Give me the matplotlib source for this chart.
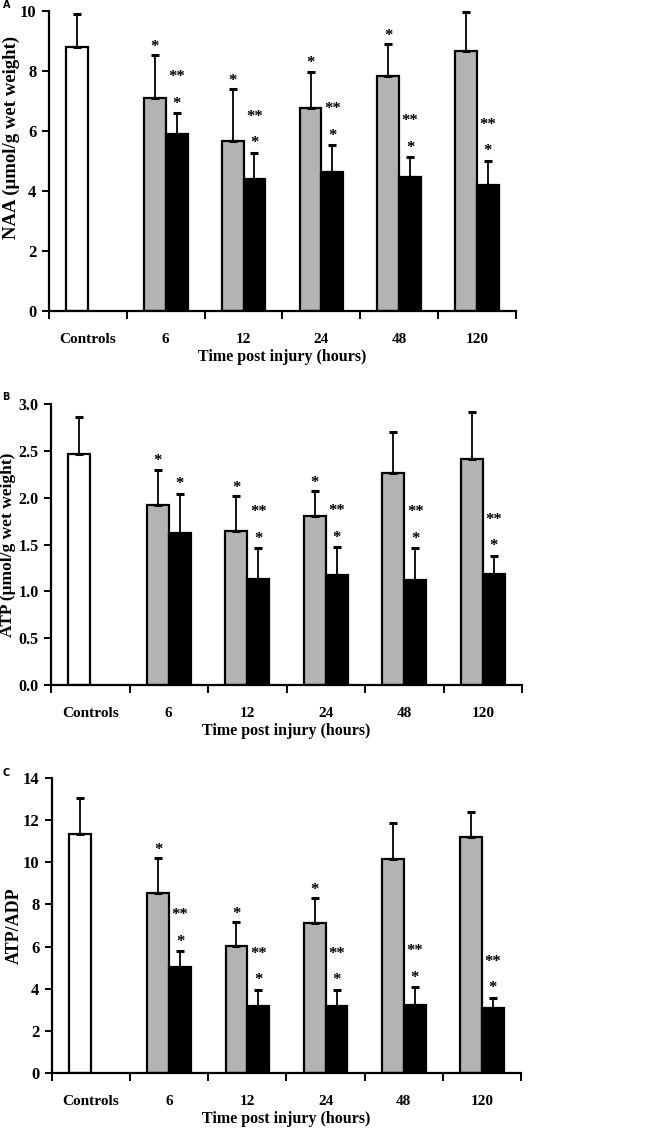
import numpy as np
import matplotlib
matplotlib.use('Agg')
import matplotlib.pyplot as plt

plt.rcParams['font.family'] = ['Liberation Serif', 'DejaVu Serif']
plt.rcParams['font.weight'] = 'bold'
plt.rcParams['axes.labelweight'] = 'bold'

categories = ['Controls', '6', '12', '24', '48', '120']

# panel A: NAA
naa_gray = [8.79, 7.09, 5.68, 6.76, 7.83, 8.66]
naa_gray_err = [1.11, 1.44, 1.71, 1.22, 1.08, 1.32]
naa_black = [np.nan, 5.89, 4.40, 4.64, 4.47, 4.20]
naa_black_err = [np.nan, 0.70, 0.87, 0.88, 0.66, 0.80]
naa_gray_star = [0, 1, 1, 1, 1, 0]
naa_black_dstar = [0, 1, 1, 1, 1, 1]

# panel B: ATP
atp_gray = [2.47, 1.92, 1.64, 1.80, 2.26, 2.41]
atp_gray_err = [0.39, 0.38, 0.38, 0.27, 0.44, 0.50]
atp_black = [np.nan, 1.62, 1.13, 1.17, 1.12, 1.19]
atp_black_err = [np.nan, 0.42, 0.33, 0.30, 0.34, 0.19]
atp_gray_star = [0, 1, 1, 1, 0, 0]
atp_black_dstar = [0, 0, 1, 1, 1, 1]

# panel C: ATP/ADP
ratio_gray = [11.32, 8.56, 6.04, 7.13, 10.16, 11.19]
ratio_gray_err = [1.71, 1.65, 1.11, 1.19, 1.70, 1.21]
ratio_black = [np.nan, 5.01, 3.19, 3.19, 3.25, 3.09]
ratio_black_err = [np.nan, 0.76, 0.76, 0.76, 0.82, 0.49]
ratio_gray_star = [0, 1, 1, 1, 0, 0]
ratio_black_dstar = [0, 1, 1, 1, 1, 1]

fig = plt.figure(figsize=(6.48, 11.31), dpi=100)

w = 0.28


def draw_panel(ax, gray, gray_err, black, black_err, gray_star, black_dstar,
               ylim, yticks, yfmt, ylabel, ylab_size, ylab_pos, ytick_size=12):
    x = np.arange(len(categories))
    colors = ['white'] + ['#b3b3b3'] * (len(categories) - 1)
    ax.bar(x - w / 2, gray, w, color=colors, edgecolor='black', linewidth=1.6, zorder=2)
    ax.bar(x + w / 2, black, w, color='black', edgecolor='black', linewidth=1.6, zorder=2)
    g = np.array(gray)
    ge = np.array(gray_err)
    b = np.array(black)
    be = np.array(black_err)
    ax.errorbar(x - w / 2, g, yerr=[np.zeros_like(ge), ge], fmt='none', ecolor='black',
                elinewidth=1.3, capsize=3, capthick=2.2, zorder=3)
    ax.errorbar(x + w / 2, b, yerr=[np.zeros_like(be), be], fmt='none', ecolor='black',
                elinewidth=1.3, capsize=3, capthick=2.2, zorder=3)
    # significance marks
    for i in range(len(categories)):
        if gray_star[i]:
            ax.annotate('*', (x[i] - w / 2, g[i] + ge[i]), xytext=(0, 3),
                        textcoords='offset points', ha='center', va='baseline', fontsize=12)
        if not np.isnan(b[i]):
            ax.annotate('*', (x[i] + w / 2, b[i] + be[i]), xytext=(0, 4),
                        textcoords='offset points', ha='center', va='baseline', fontsize=12)
            if black_dstar[i]:
                ax.annotate('**', (x[i] + w / 2, b[i] + be[i]), xytext=(0, 23),
                            textcoords='offset points', ha='center', va='baseline', fontsize=12)

    ax.set_xlim(-0.5, len(categories) - 0.5)
    ax.set_ylim(*ylim)
    ax.set_yticks(yticks)
    ax.set_yticklabels([yfmt.format(t) for t in yticks], fontsize=ytick_size)
    ax.set_xticks(np.arange(len(categories) + 1) - 0.5)
    ax.set_xticklabels([])
    ax.set_xticks(x, minor=True)
    ax.set_xticklabels(categories, minor=True, fontsize=11)
    ax.tick_params(axis='x', which='major', direction='out', length=6, width=1.4)
    ax.tick_params(axis='x', which='minor', length=0, pad=16)
    ax.tick_params(axis='y', direction='out', length=5, width=1.4, pad=4)
    for s in ['top', 'right']:
        ax.spines[s].set_visible(False)
    for s in ['left', 'bottom']:
        ax.spines[s].set_linewidth(1.6)
    ax.set_xlabel('Time post injury (hours)', fontsize=11.5, labelpad=2)
    ax.set_ylabel(ylabel, fontsize=ylab_size)
    ax.yaxis.set_label_coords(*ylab_pos)


axA = fig.add_axes([0.0756, 0.725, 0.7207, 0.2653])
draw_panel(axA, naa_gray, naa_gray_err, naa_black, naa_black_err, naa_gray_star, naa_black_dstar,
           (0, 10), [0, 2, 4, 6, 8, 10], '{:d}', 'NAA (\u03bcmol/g wet weight)', 13.5, (-0.062, 0.58))

axB = fig.add_axes([0.0787, 0.3943, 0.727, 0.2485])
draw_panel(axB, atp_gray, atp_gray_err, atp_black, atp_black_err, atp_gray_star, atp_black_dstar,
           (0, 3.0), [0.0, 0.5, 1.0, 1.5, 2.0, 2.5, 3.0], '{:.1f}', 'ATP (\u03bcmol/g wet weight)', 12.5,
           (-0.074, 0.5), ytick_size=11.5)

axC = fig.add_axes([0.0802, 0.0513, 0.7238, 0.2608])
draw_panel(axC, ratio_gray, ratio_gray_err, ratio_black, ratio_black_err, ratio_gray_star, ratio_black_dstar,
           (0, 14), [0, 2, 4, 6, 8, 10, 12, 14], '{:d}', 'ATP/ADP', 13, (-0.062, 0.5))

for lab, yy in [('A', 1 - 10 / 1131), ('B', 1 - 402 / 1131), ('C', 1 - 778 / 1131)]:
    fig.text(0.004, yy, lab, fontsize=7, fontweight='bold', family='DejaVu Sans', va='bottom')

fig.savefig('out.png', dpi=100)
